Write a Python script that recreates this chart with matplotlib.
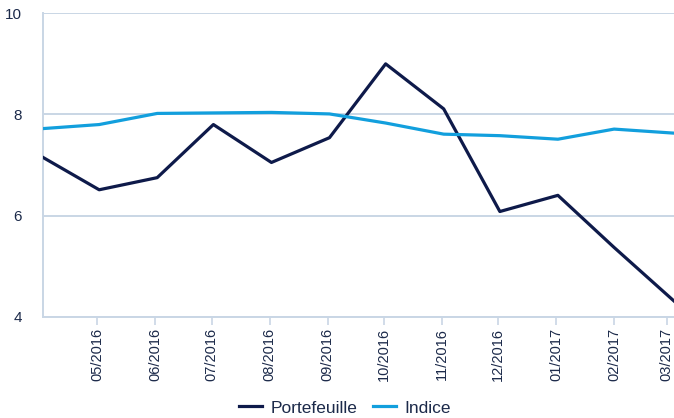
import matplotlib
matplotlib.use('Agg')
import matplotlib.pyplot as plt
import matplotlib.transforms as mtransforms
import pandas as pd

dates = ['2016-04-02', '2016-05-02', '2016-06-02', '2016-07-02', '2016-08-02', '2016-09-02',
         '2016-10-02', '2016-11-02', '2016-12-02', '2017-01-02', '2017-02-01', '2017-03-05']
portefeuille = [7.15, 6.51, 6.75, 7.80, 7.05, 7.54, 9.00, 8.11, 6.08, 6.40, 5.37, 4.31]
indice = [7.72, 7.80, 8.02, 8.03, 8.04, 8.01, 7.83, 7.61, 7.58, 7.51, 7.71, 7.63]

tick_dates = ['2016-05-01', '2016-06-01', '2016-07-01', '2016-08-01', '2016-09-01', '2016-10-01',
              '2016-11-01', '2016-12-01', '2017-01-01', '2017-02-01', '2017-03-01']
tick_labels = ['05/2016', '06/2016', '07/2016', '08/2016', '09/2016', '10/2016',
               '11/2016', '12/2016', '01/2017', '02/2017', '03/2017']
y_ticks = [4, 6, 8, 10]

NAVY = '#0e1a4a'
BLUE = '#129fdd'
GRID = '#c9d6e5'
TEXT = '#1c2a4a'

plt.rcParams['font.family'] = ['Liberation Sans', 'DejaVu Sans']

x = pd.to_datetime(dates)
xt = pd.to_datetime(tick_dates)

fig = plt.figure(figsize=(6.74, 4.18), dpi=100)
ax = fig.add_axes([43 / 674, 1 - 316.7 / 418, 1 - 43 / 674, (316.7 - 13.3) / 418])

ax.plot(x, portefeuille, color=NAVY, linewidth=2.3, label='Portefeuille', zorder=3)
ax.plot(x, indice, color=BLUE, linewidth=2.3, label='Indice', zorder=3)

ax.set_xlim(x[0], x[-1])
ax.set_ylim(4, 10)
ax.set_yticks(y_ticks)
ax.set_yticklabels([str(v) for v in y_ticks])
ax.set_xticks(xt)
ax.set_xticklabels(tick_labels, rotation=90, va='top', ha='center')

# shift rotated labels slightly left of their tick, like the original
offset = mtransforms.ScaledTranslation(-4 / 100, 0, fig.dpi_scale_trans)
for lab in ax.get_xticklabels():
    lab.set_transform(lab.get_transform() + offset)

ax.grid(axis='y', color=GRID, linewidth=1.4)
ax.set_axisbelow(True)
for side in ['top', 'right']:
    ax.spines[side].set_visible(False)
for side in ['left', 'bottom']:
    ax.spines[side].set_color(GRID)
    ax.spines[side].set_linewidth(1.4)

ax.tick_params(axis='y', length=0, pad=15, labelsize=11, labelcolor=TEXT)
ax.tick_params(axis='x', length=6, width=1.2, color=GRID, pad=2, labelsize=10.5, labelcolor=TEXT)

handles, labels = ax.get_legend_handles_labels()
fig.legend(handles, labels, loc='center', bbox_to_anchor=(345 / 674, 1 - 408 / 418), ncol=2,
           frameon=False, fontsize=12.5, handlelength=1.33, handletextpad=0.46,
           columnspacing=0.92, labelcolor=TEXT)

fig.savefig('out.png', dpi=100)
